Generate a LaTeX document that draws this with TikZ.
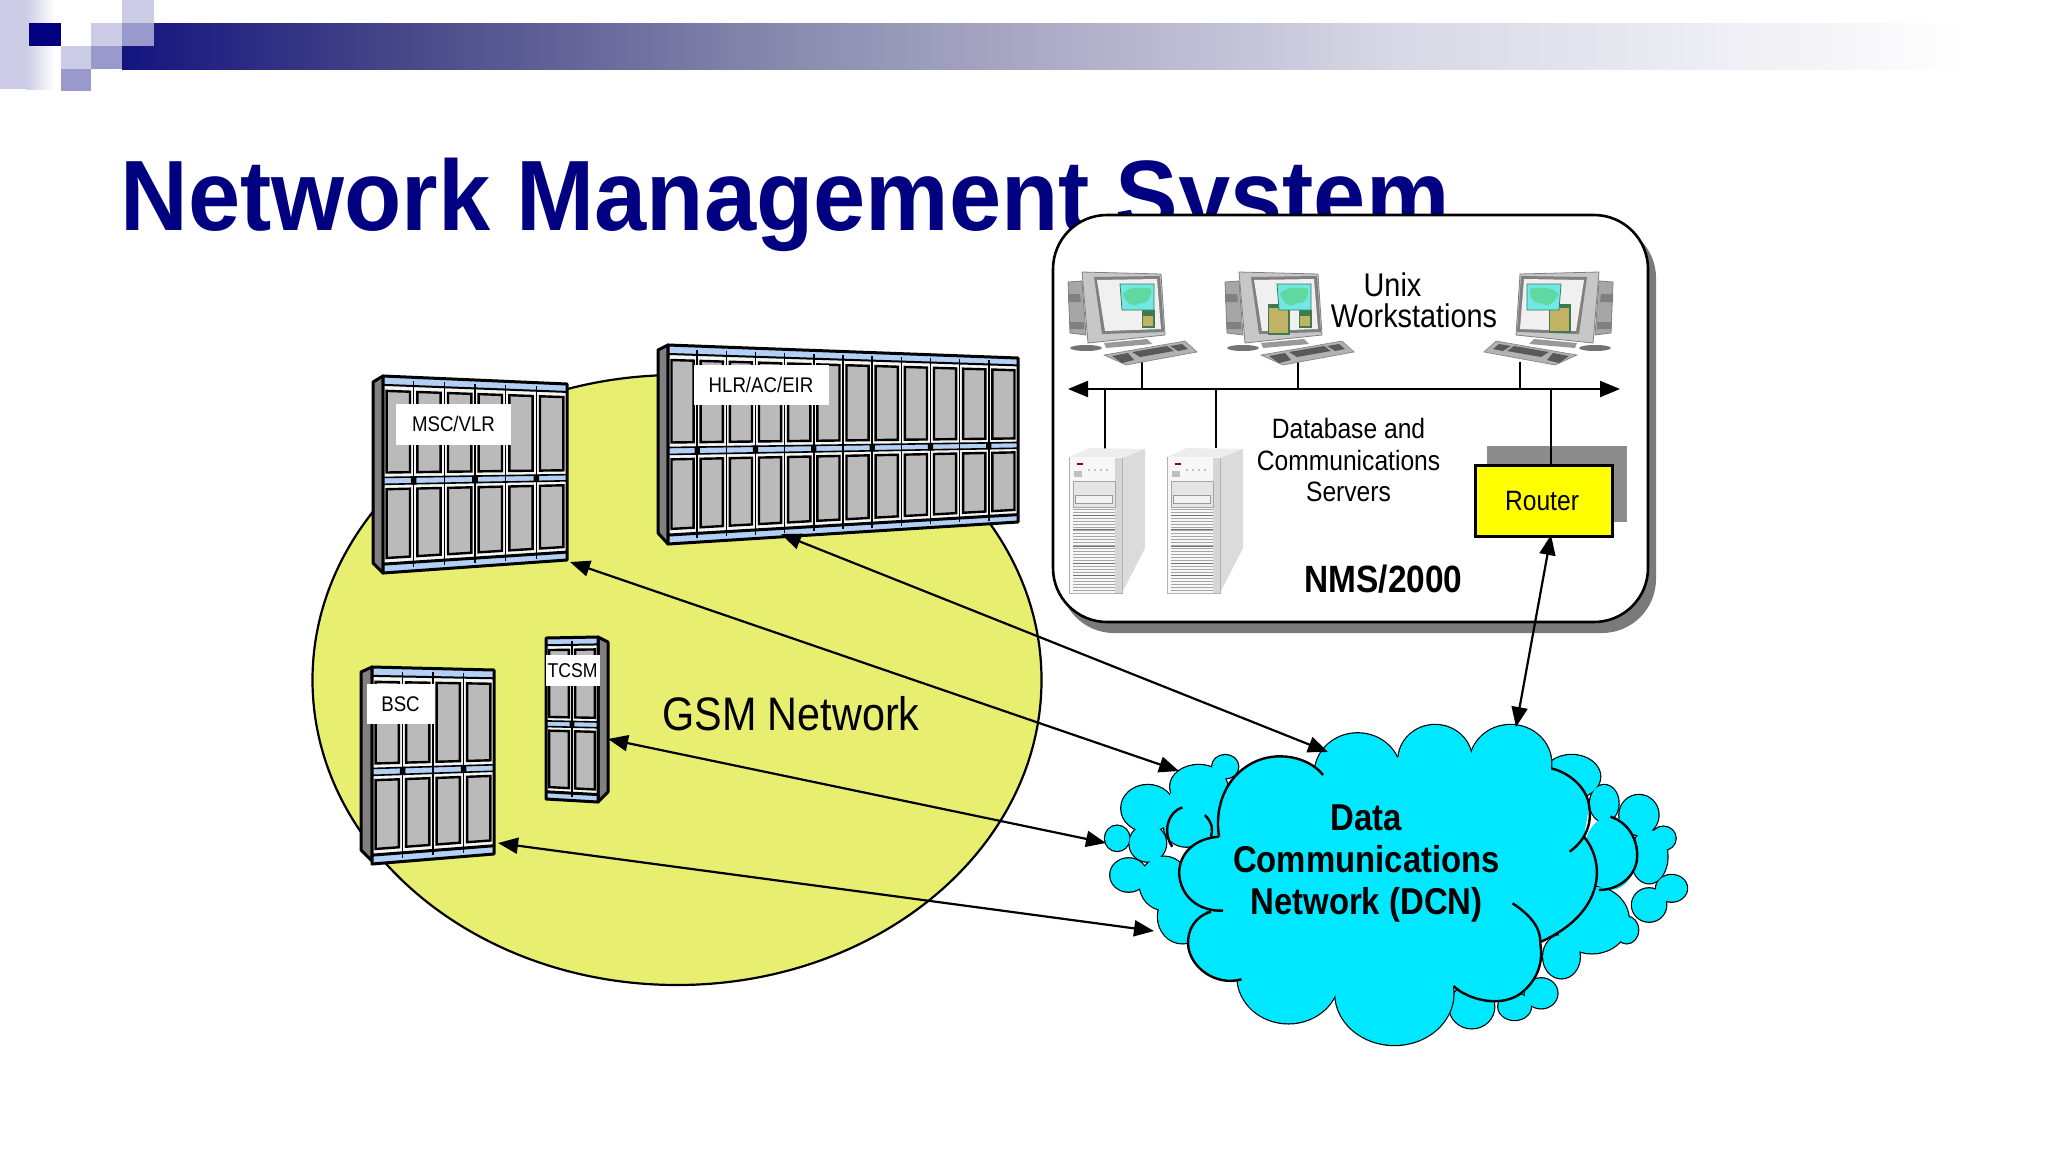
\documentclass[tikz,border=0pt]{standalone}
\usepackage{fontspec}
\setmainfont{Liberation Sans}
\newfontfamily\nar[FakeStretch=0.88]{Liberation Sans}
\newfontfamily\ttl[FakeStretch=0.938]{Liberation Sans}
\usetikzlibrary{arrows.meta,calc,shapes.geometric}
\definecolor{navy}{HTML}{000080}
\definecolor{lav}{HTML}{CCCCE6}
\definecolor{lavm}{HTML}{9999CC}
\definecolor{gsmfill}{HTML}{E8EE70}
\definecolor{cloudc}{HTML}{00E8FF}
\definecolor{rackblue}{HTML}{B0D0F5}
\definecolor{panelg}{HTML}{BABABA}
\definecolor{ga}{HTML}{14147F}
\definecolor{gb}{HTML}{474788}
\definecolor{gc}{HTML}{8C8CB0}
\definecolor{gd}{HTML}{D8D8E6}
\definecolor{routerc}{HTML}{FFFF00}
\definecolor{tanc}{HTML}{C2B266}
\definecolor{tane}{HTML}{3E7A50}
\definecolor{mapc}{HTML}{70E8E8}
\definecolor{mapg}{HTML}{60D8A0}
\tikzset{
  px/.style={line width=#1*0.5pt},
  link/.style={draw=black,px=2.2,{Triangle[length=10pt,width=8pt]}-{Triangle[length=10pt,width=8pt]}},
  buswire/.style={draw=black,px=2},
  rlabel/.style={fill=white,inner sep=0pt,font=\nar\fontsize{10.6}{13}\selectfont},
  lbl/.style={inner sep=0pt,font=\nar\fontsize{14}{16}\selectfont},
  dcn/.style={inner sep=0pt,anchor=base,font=\nar\bfseries\fontsize{18.7}{21}\selectfont},
  lobe/.style={fill=cloudc,draw=black,px=2.4},
  lobefill/.style={fill=cloudc},
  cloudline/.style={draw=black,px=2.4},
}
% bilinear point inside a rack front
\newcommand\Qp[2]{({(1-(#2))*((1-(#1))*\xa+(#1)*\xb)+(#2)*((1-(#1))*\xc+(#1)*\xd)},{(1-(#2))*((1-(#1))*\ya+(#1)*\yb)+(#2)*((1-(#1))*\yc+(#1)*\yd)})}
\newcommand\Qbox[4]{\Qp{#1}{#3} -- \Qp{#2}{#3} -- \Qp{#2}{#4} -- \Qp{#1}{#4} -- cycle}
\newcommand\rack[9]{%
  \def\xa{#1}\def\ya{#2}\def\xb{#3}\def\yb{#4}\def\xc{#5}\def\yc{#6}\def\xd{#7}\def\yd{#8}\def\nn{#9}%
  \fill[black!4] \Qbox{0}{1}{0}{1};
  \foreach \i in {1,...,\nn}{%
    \pgfmathsetmacro\ua{(\i-1)/\nn}\pgfmathsetmacro\ub{\i/\nn}%
    \pgfmathsetmacro\pa{\ua+.12/\nn}\pgfmathsetmacro\pb{\ub-.12/\nn}%
    \draw[fill=panelg,px=2.4] \Qbox{\pa}{\pb}{.075}{.49};
    \draw[fill=panelg,px=2.4] \Qbox{\pa}{\pb}{.575}{.925};
  }
  \fill[rackblue] \Qbox{0}{1}{0}{.045};
  \fill[rackblue] \Qbox{0}{1}{.515}{.55};
  \fill[rackblue] \Qbox{0}{1}{.955}{1};
  \draw[px=2] \Qp{0}{.045} -- \Qp{1}{.045};
  \draw[px=1.6] \Qp{0}{.515} -- \Qp{1}{.515};
  \draw[px=1.6] \Qp{0}{.55} -- \Qp{1}{.55};
  \draw[px=3] \Qp{0}{.955} -- \Qp{1}{.955};
  \foreach \i in {1,...,\nn}{%
    \pgfmathsetmacro\uc{\i/\nn}%
    \draw[px=1.4] \Qp{\uc}{0.02} -- \Qp{\uc}{.98};
    \ifodd\i
      \pgfmathsetmacro\sa{\uc-.09/\nn}\pgfmathsetmacro\sb{\uc+.09/\nn}%
      \fill[black] \Qbox{\sa}{\sb}{.512}{.553};
    \fi
  }
  \draw[px=3,line join=round] \Qbox{0}{1}{0}{1};
}
\newcommand\workstation[4]{% x, y, sign, big tan
  \begin{scope}[shift={(#1,#2)},xscale=#3]
    \fill[black!55] (4,76) ellipse [x radius=16,y radius=3];
    \draw[fill=black!35,draw=black!50,px=.8] (-14,10) -- (0,9) -- (4,63) -- (-12,61) -- cycle;
    \fill[black!50] (-14,22) -- (-2,22) -- (-1,30) -- (-14,30) -- cycle;
    \fill[black!50] (-13,50) -- (2,50) -- (2,57) -- (-12,57) -- cycle;
    \fill[black!22] (0,0) -- (79,2) -- (83,63) -- (6,71) -- cycle;
    \draw[black!50,px=.8] (0,0) -- (79,2) -- (83,63) -- (6,71) -- cycle;
    \fill[black!50] (12,5) -- (78,4) -- (82,60) -- (20,62) -- cycle;
    \fill[black!6] (15,8) -- (75,7) -- (79,57) -- (23,59) -- cycle;
    \fill[black!40] (22,71) -- (65,67) -- (70,72) -- (24,76) -- cycle;
    \ifnum#4=1
      \draw[fill=tane,draw=tane,px=1] (29,32) -- (50,32) -- (50,62) -- (29,62) -- cycle;
      \fill[tanc] (30,36) rectangle (49,61);
    \fi
    \ifnum#4=2
      \draw[fill=tane,draw=tane,px=1] (29,32) -- (50,32) -- (50,60) -- (29,60) -- cycle;
      \fill[tanc] (30,36) rectangle (49,59);
    \else
      \draw[fill=tane,draw=tane,px=1] (60,38) rectangle (72,55);
      \fill[tanc] (61,44) rectangle (71,54);
    \fi
    \draw[fill=mapc,draw=tane,px=.8] (38,12) -- (72,12) -- (72,38) -- (40,38) -- cycle;
    \fill[mapg] (41,22) .. controls (46,14) and (62,15) .. (69,17) .. controls (70,25) and (65,33) .. (58,31) .. controls (52,36) and (44,32) .. cycle;
    \fill[black!30] (22,83) -- (103,69) -- (115,80) -- (44,93) -- cycle;
    \draw[black!50,px=.6] (22,83) -- (103,69) -- (115,80) -- (44,93) -- cycle;
    \fill[black!65] (30,84) -- (46,81) -- (52,88) -- (40,91) -- cycle;
    \fill[black!65] (50,80) -- (85,74) -- (92,79) -- (58,85) -- cycle;
    \fill[black!65] (88,74) -- (100,72) -- (106,77) -- (96,79) -- cycle;
  \end{scope}
}
\newcommand\server[2]{%
  \begin{scope}[shift={(#1,#2)}]
    \fill[black!7] (0,0) -- (20,-9) -- (76,-8) -- (53,1) -- cycle;
    \fill[black!14] (53,1) -- (76,-8) -- (76,91) -- (53,136) -- cycle;
    \fill[black!3] (0,0) rectangle (53,136);
    \fill[black!16] (46,1) rectangle (53,136);
    \draw[black!30,px=.8] (0,0) -- (0,136) -- (53,136) -- (53,1);
    \fill[black!25] (5,14) rectangle (13,20);
    \fill[red!60!black] (8,6) rectangle (14,8);
    \foreach \xx in {20,26,32,38}{\fill[black!45] (\xx,13) circle (.8);}
    \draw[black!35,fill=black!10,px=.8] (4,24) rectangle (46,50);
    \draw[black!40,fill=black!5,px=.8] (6,38) rectangle (43,46);
    \foreach \yy in {52,55,...,134}{\draw[black!35,px=.8] (4,\yy) -- (46,\yy);}
    \foreach \yy in {58,72,89,106,118}{\draw[black!55,px=.9] (4,\yy) -- (46,\yy);}
  \end{scope}
}
\begin{document}
\begin{tikzpicture}[x=0.5pt,y=-0.5pt]
\useasboundingbox (0,0) rectangle (2048,1152);
\fill[white] (0,0) rectangle (2048,1152);
% header
\fill[lav] (0,0) rectangle (26,89);
\shade[left color=lav,right color=white] (26,0) rectangle (55,89);
\shade[left color=ga,right color=gb] (122,23) rectangle (400.3,69);
\shade[left color=gb,right color=gc] (400,23) rectangle (800.3,69);
\shade[left color=gc,right color=gd] (800,23) rectangle (1400.3,69);
\shade[left color=gd,right color=white] (1400,23) rectangle (1970,69);
\fill[navy] (29,23) rectangle (61,46);
\fill[lav] (61,46) rectangle (91,69);
\fill[lav] (91,23) rectangle (122,46);
\fill[lav] (122,0) rectangle (154,23);
\fill[lavm] (122,23) rectangle (154,46);
\fill[lavm] (91,46) rectangle (122,69);
\fill[lavm] (61,69) rectangle (91,91);
% title
\node[anchor=base west,inner sep=0pt,text=navy,font=\ttl\bfseries\fontsize{50}{60}\selectfont] (title) at (120,230) {Network Management System};
% NMS box
\fill[black!52,rounded corners=27pt] (1060,224) rectangle (1656,633);
\draw[fill=white,px=2.6,rounded corners=27pt] (1053,215) rectangle (1648,622);
\coordinate (busL) at (1068,389);
\coordinate (busR) at (1620,389);
\coordinate (ws1) at (1142,362);
\coordinate (ws2) at (1298,362);
\coordinate (ws3) at (1520,362);
\coordinate (sv1) at (1105,450);
\coordinate (sv2) at (1216,448);
\fill[black!45] (1487,446) rectangle (1627,522);
\draw[buswire] (ws1) -- (ws1 |- busL);
\draw[buswire] (ws2) -- (ws2 |- busL);
\draw[buswire] (ws3) -- (ws3 |- busL);
\draw[buswire] (sv1) -- (sv1 |- busL);
\draw[buswire] (sv2) -- (sv2 |- busL);
\draw[link] (busL) -- (busR);
\workstation{1082}{272}{1}{0}
\workstation{1239}{272}{1}{1}
\workstation{1599}{272}{-1}{2}
\server{1069}{457}
\server{1167}{457}
\node[draw=black,px=2.6,fill=routerc,minimum width=68.5pt,minimum height=35.5pt,inner sep=0pt,font=\nar\fontsize{14}{16}\selectfont] (router) at (1544,501) {Router\kern 2pt};
\coordinate (rt) at (1551,389);
\draw[buswire] (rt) -- (rt |- router.north);
\node[lbl,font=\nar\fontsize{16.4}{18}\selectfont] (unix) at (1392.5,284.5) {Unix};
\node[lbl,font=\nar\fontsize{16.4}{18}\selectfont] (wsl) at (1414,315.5) {Workstations};
\node[lbl] (db1) at (1348.5,428.5) {Database and};
\node[lbl] (db2) at (1348.5,460) {Communications};
\node[lbl] (db3) at (1348.5,491.5) {Servers};
\node[lbl,font=\nar\bfseries\fontsize{19}{21}\selectfont] (nms) at (1383.5,579.5) {NMS/2000};
% GSM ellipse
\node[ellipse,draw=black,px=2.2,fill=gsmfill,inner sep=0pt,minimum width=364.5pt,minimum height=305pt] (gsmarea) at (677,680) {};
\node[lbl,font=\nar\fontsize{23.5}{26}\selectfont] (gsm) at (791,714) {GSM Network};
% racks
\draw[fill=black!50,px=3,line join=round] (383,376) -- (373,382) -- (373,563) -- (383,573) -- cycle;
\rack{383}{376}{567}{384}{383}{573}{567}{560}{6}
\draw[fill=black!50,px=3,line join=round] (668,345) -- (658,350) -- (658,533) -- (668,544) -- cycle;
\rack{668}{345}{1018}{358}{668}{544}{1018}{522}{12}
\draw[fill=black!50,px=3,line join=round] (372,667) -- (361,672) -- (361,850) -- (372,861) -- cycle;
\rack{372}{667}{494}{670}{372}{864}{494}{854}{4}
\draw[fill=black!50,px=3,line join=round] (598,637) -- (608,642) -- (608,792) -- (598,802) -- cycle;
\rack{546}{638}{598}{637}{546}{799}{598}{802}{2}
\node[rlabel,minimum width=57.5pt,minimum height=20.5pt] (msc) at (453.5,424) {MSC/VLR};
\node[rlabel,minimum width=67.5pt,minimum height=20pt] (hlr) at (761,385) {HLR/AC/EIR};
\node[rlabel,minimum width=33.5pt,minimum height=20pt] (bsc) at (400.5,704) {BSC};
\node[rlabel,minimum width=27pt,minimum height=15.5pt,font=\nar\fontsize{10}{12}\selectfont] (tcsm) at (572.5,670.5) {TCSM};
% cloud, in its own scaled frame
\begin{scope}[shift={(1080.5,700)},xscale=.4076,yscale=.3333]
  \def\backlobes{355/200/32/35,290/260/70/65,165/325/65/70,90/415/30/38,165/430/45/55,118/525/45/50,260/380/55/60,205/550/60/80,250/650/60/80,1205/230/70/65,1285/310/35/55,1370/345/48/60,1395/470/45/80,1430/415/30/35,1450/565/38/40,1395/615/42/50,1255/660/90/100,1340/690/28/40,1180/770/45/65,1130/880/40/45,1065/920/40/40,960/920/55/65}
  \foreach \a/\b/\c/\d in \backlobes {\draw[lobe] (\a,\b) ellipse [x radius=\c,y radius=\d];}
  \foreach \a/\b/\c/\d in \backlobes {\fill[lobefill] (\a,\b) ellipse [x radius=\c,y radius=\d];}
  \fill[lobefill] (1300,460) ellipse [x radius=65,y radius=110];
  \fill[lobefill] (300,330) ellipse [x radius=90,y radius=100];
  \def\mainlobes{680/220/105/120,870/180/90/105,1055/190/100/115,510/830/125/140,770/880/145/155}
  \foreach \a/\b/\c/\d in \mainlobes {\draw[lobe] (\a,\b) ellipse [x radius=\c,y radius=\d];}
  \foreach \a/\b/\c/\d in \mainlobes {\fill[lobefill] (\a,\b) ellipse [x radius=\c,y radius=\d];}
  \fill[lobefill] (595,225) .. controls (560,170) and (480,150) .. (420,190) .. controls (345,240) and (330,340) .. (340,410) .. controls (280,415) and (242,460) .. (242,520) .. controls (245,590) and (290,635) .. (320,635) .. controls (280,650) and (262,690) .. (264,735) .. controls (268,800) and (330,860) .. (395,838) -- (915,858) .. controls (950,900) and (1040,930) .. (1090,870) .. controls (1125,830) and (1135,780) .. (1128,730) .. controls (1285,640) and (1290,490) .. (1235,410) -- (1248,320) .. controls (1245,270) and (1205,220) .. (1155,205) -- (955,165) -- (785,170) -- cycle;
  \draw[cloudline] (1060,610) .. controls (1110,650) and (1130,690) .. (1128,730);
  \draw[cloudline] (1200,455) .. controls (1240,420) and (1255,370) .. (1248,320) .. controls (1245,270) and (1205,220) .. (1155,205);
  \draw[cloudline] (350,632) .. controls (290,635) and (245,590) .. (242,520) .. controls (242,460) and (280,415) .. (340,410);
  \draw[cloudline] (340,410) .. controls (330,340) and (345,240) .. (420,190) .. controls (480,150) and (560,170) .. (595,225);
  \draw[cloudline] (250,322) .. controls (215,335) and (200,395) .. (225,440);
  \draw[cloudline] (305,345) .. controls (325,370) and (325,390) .. (320,410);
  \draw[cloudline] (320,635) .. controls (280,650) and (262,690) .. (264,735) .. controls (268,800) and (330,860) .. (395,838);
  \draw[cloudline] (915,858) .. controls (950,900) and (1040,930) .. (1090,870) .. controls (1125,830) and (1135,780) .. (1128,730);
  \draw[cloudline] (1235,410) .. controls (1290,490) and (1285,640) .. (1130,725);
  \draw[cloudline] (1300,350) .. controls (1350,370) and (1370,430) .. (1365,480) .. controls (1360,530) and (1320,570) .. (1272,570);
\end{scope}
\node[dcn] (d1) at (1366.5,830) {Data};
\node[dcn] (d2) at (1366.5,872) {Communications};
\node[dcn] (d3) at (1366.5,914) {Network (DCN)};
% connectors
\coordinate (mscE) at (570,562);
\coordinate (hlrE) at (781,534);
\coordinate (tcsmE) at (608,739);
\coordinate (bscE) at (498,843);
\coordinate (rtE) at (1551,535);
\coordinate (cA) at (1179,771);
\coordinate (cB) at (1328,752);
\coordinate (cC) at (1106,843);
\coordinate (cD) at (1154,931);
\coordinate (cE) at (1516,727);
\draw[link] (mscE) -- (cA);
\draw[link] (hlrE) -- (cB);
\draw[link] (tcsmE) -- (cC);
\draw[link] (bscE) -- (cD);
\draw[link] (rtE) -- (cE);
\end{tikzpicture}
\end{document}
